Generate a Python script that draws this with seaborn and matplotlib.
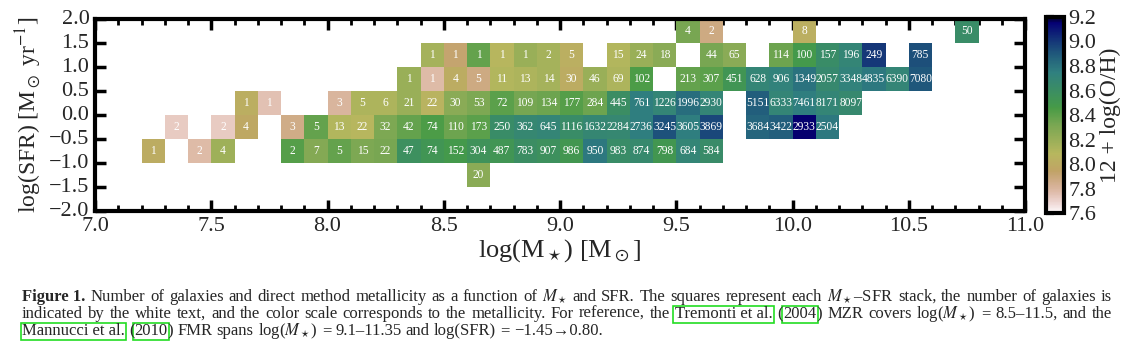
import numpy as np
import pandas as pd
import matplotlib
matplotlib.use("Agg")
import matplotlib.pyplot as plt
import seaborn as sns
from matplotlib.patches import Rectangle

sns.set_style("white")
plt.rcParams["font.family"] = ["Liberation Serif", "DejaVu Serif"]
plt.rcParams["mathtext.fontset"] = "stix"

# ---------------- data: one SFR row (bin centre) per block ----------------
sfr_r175 = 1.75
mass_r175 = [9.55, 9.65, 10.05, 10.75]
n_r175 = [4, 2, 8, 50]
z_r175 = [8.32, 7.87, 8.03, 8.62]

sfr_r125 = 1.25
mass_r125 = [8.45, 8.55, 8.65, 8.75, 8.85, 8.95, 9.05, 9.25, 9.35, 9.45, 9.65, 9.75,
             9.95, 10.05, 10.15, 10.25, 10.35, 10.55]
n_r125 = [1, 1, 1, 1, 1, 2, 5, 15, 24, 18, 44, 65, 114, 100, 157, 196, 249, 785]
z_r125 = [8.15, 7.92, 8.38, 8.08, 8.20, 8.15, 8.03, 8.10, 8.20, 8.25, 8.32, 8.25,
          8.35, 8.48, 8.62, 8.70, 9.00, 8.93]

sfr_r075 = 0.75
mass_r075 = [8.35, 8.45, 8.55, 8.65, 8.75, 8.85, 8.95, 9.05, 9.15, 9.25, 9.35, 9.55,
             9.65, 9.75, 9.85, 9.95, 10.05, 10.15, 10.25, 10.35, 10.45, 10.55]
n_r075 = [1, 1, 4, 5, 11, 13, 14, 30, 46, 69, 102, 213, 307, 451, 628, 906, 1349,
          2057, 3348, 4835, 6390, 7080]
z_r075 = [8.20, 7.78, 8.00, 7.87, 8.10, 8.12, 8.15, 8.00, 8.20, 8.12, 8.45, 8.38,
          8.40, 8.52, 8.70, 8.72, 8.80, 8.66, 8.72, 8.78, 8.70, 8.90]

sfr_r025 = 0.25
mass_r025 = [7.65, 7.75, 8.05, 8.15, 8.25, 8.35, 8.45, 8.55, 8.65, 8.75, 8.85, 8.95,
             9.05, 9.15, 9.25, 9.35, 9.45, 9.55, 9.65, 9.85, 9.95, 10.05, 10.15, 10.25]
n_r025 = [1, 1, 3, 5, 6, 21, 22, 30, 53, 72, 109, 134, 177, 284, 445, 761, 1226,
          1996, 2930, 5151, 6333, 7461, 8171, 8097]
z_r025 = [8.02, 7.75, 7.80, 8.12, 8.12, 8.20, 8.05, 8.25, 8.30, 8.40, 8.33, 8.35,
          8.42, 8.35, 8.60, 8.75, 8.70, 8.82, 8.70, 8.88, 8.70, 8.75, 8.70, 8.66]

sfr_rm025 = -0.25
mass_rm025 = [7.35, 7.55, 7.65, 7.85, 7.95, 8.05, 8.15, 8.25, 8.35, 8.45, 8.55, 8.65,
              8.75, 8.85, 8.95, 9.05, 9.15, 9.25, 9.35, 9.45, 9.55, 9.65, 9.85, 9.95,
              10.05, 10.15]
n_rm025 = [2, 2, 4, 3, 5, 13, 22, 32, 42, 74, 110, 173, 250, 362, 645, 1116, 1632,
           2284, 2736, 3245, 3605, 3869, 3684, 3422, 2933, 2504]
z_rm025 = [7.72, 7.72, 7.98, 7.86, 8.38, 8.10, 8.08, 8.30, 8.38, 8.45, 8.35, 8.40,
           8.62, 8.67, 8.70, 8.62, 8.68, 8.67, 8.75, 8.92, 8.75, 8.95, 8.85, 8.88,
           9.15, 8.78]

sfr_rm075 = -0.75
mass_rm075 = [7.25, 7.45, 7.55, 7.85, 7.95, 8.05, 8.15, 8.25, 8.35, 8.45, 8.55, 8.65,
              8.75, 8.85, 8.95, 9.05, 9.15, 9.25, 9.35, 9.45, 9.55, 9.65]
n_rm075 = [1, 2, 4, 2, 7, 5, 15, 22, 47, 74, 152, 304, 487, 783, 907, 986, 950, 983,
           874, 798, 684, 584]
z_rm075 = [8.00, 7.78, 8.18, 8.42, 8.28, 8.38, 8.30, 8.32, 8.58, 8.52, 8.48, 8.55,
           8.52, 8.60, 8.57, 8.50, 8.78, 8.62, 8.65, 8.50, 8.70, 8.63]

sfr_rm125 = -1.25
mass_rm125 = [8.65]
n_rm125 = [20]
z_rm125 = [8.25]

mass_ticks = [7.0, 7.5, 8.0, 8.5, 9.0, 9.5, 10.0, 10.5, 11.0]
sfr_ticks = [2.0, 1.5, 1.0, 0.5, 0.0, -0.5, -1.0, -1.5, -2.0]
cbar_ticks = [7.6, 7.8, 8.0, 8.2, 8.4, 8.6, 8.8, 9.0, 9.2]

# ---------------- build grid ----------------
M_LO, M_STEP, N_M = 7.0, 0.1, 40
S_HI, S_STEP, N_S = 2.0, 0.5, 8
blocks = [
    (sfr_r175, mass_r175, n_r175, z_r175),
    (sfr_r125, mass_r125, n_r125, z_r125),
    (sfr_r075, mass_r075, n_r075, z_r075),
    (sfr_r025, mass_r025, n_r025, z_r025),
    (sfr_rm025, mass_rm025, n_rm025, z_rm025),
    (sfr_rm075, mass_rm075, n_rm075, z_rm075),
    (sfr_rm125, mass_rm125, n_rm125, z_rm125),
]
recs = []
for s, ms, ns, zs in blocks:
    for m, n, z in zip(ms, ns, zs):
        recs.append((m, s, n, z))
df = pd.DataFrame(recs, columns=["mass", "sfr", "n", "z"])
df["col"] = np.floor((df["mass"] - M_LO) / M_STEP + 1e-6).astype(int)
df["row"] = np.floor((S_HI - df["sfr"]) / S_STEP + 1e-6).astype(int)
Z = df.pivot(index="row", columns="col", values="z").reindex(index=range(N_S), columns=range(N_M))
N = df.pivot(index="row", columns="col", values="n").reindex(index=range(N_S), columns=range(N_M))

# ---------------- figure ----------------
W, H = 1134, 343
fig = plt.figure(figsize=(W / 100, H / 100), dpi=100)
ax = fig.add_axes([95 / W, 1 - 211 / H, 930 / W, 192 / H])
cax = fig.add_axes([1046 / W, 1 - 213 / H, 18 / W, 196 / H])

sns.heatmap(Z, mask=Z.isna(), cmap="gist_earth_r", vmin=7.6, vmax=9.2,
            annot=N.values, fmt=".0f",
            annot_kws=dict(color="white", fontsize=8.3),
            ax=ax, cbar_ax=cax, cbar_kws={"ticks": cbar_ticks})

ax.set_xlim(0, N_M)
ax.set_ylim(N_S, 0)
ax.set_xticks([(m - M_LO) / M_STEP for m in mass_ticks])
ax.set_xticklabels([f"{m:.1f}" for m in mass_ticks], rotation=0)
ax.set_xticks(np.arange(0, N_M + 1, 1), minor=True)
ax.set_yticks([(S_HI - s) / S_STEP for s in sfr_ticks])
ax.set_yticklabels([f"{s:.1f}".replace("-", "\u2212") for s in sfr_ticks], rotation=0)
ax.set_yticks([], minor=True)
for sp in ax.spines.values():
    sp.set_visible(True)
    sp.set_linewidth(3)
    sp.set_color("black")
ax.tick_params(which="both", direction="in", top=True, right=True, bottom=True, left=True,
               color="black")
ax.tick_params(which="major", length=8, width=2.5, labelsize=16, pad=4)
ax.tick_params(which="minor", length=4, width=2)
ax.set_xlabel(r"log(M$_\star$) [M$_\odot$]", fontsize=19, labelpad=1)
ax.set_ylabel(r"log(SFR) [M$_\odot$ yr$^{-1}$]", fontsize=17, labelpad=4)

cb = ax.collections[0].colorbar
cb.outline.set_linewidth(3)
cb.outline.set_edgecolor("black")
cax.yaxis.set_ticks_position("left")
cax.tick_params(direction="in", left=True, right=False, labelleft=False, labelright=True,
                length=6, width=3, labelsize=16, pad=3, color="black")
cax.set_yticks(cbar_ticks)
cax.set_yticklabels([f"{t:.1f}" for t in cbar_ticks])
cax.yaxis.set_label_position("right")
cax.set_ylabel("12 + log(O/H)", fontsize=17, labelpad=3)

# ---------------- caption ----------------
renderer = fig.canvas.get_renderer()


def words_of(s):
    return [[(w, "n")] for w in s.split(" ")]


def place_line(words, x_left, x_right, y_base, fs, justify):
    laid = []
    total = 0.0
    for word in words:
        segs = []
        ww = 0.0
        for txt, kind in word:
            t = fig.text(0, 1 - y_base / H, txt, fontsize=fs,
                         fontweight="bold" if kind == "b" else "normal",
                         va="baseline", ha="left")
            w = t.get_window_extent(renderer).width
            segs.append((t, kind, w))
            ww += w
        laid.append(segs)
        total += ww
    space = fs * 0.25 * 100 / 72
    gap = (x_right - x_left - total) / (len(words) - 1) if justify else space
    x = x_left
    for segs in laid:
        for t, kind, w in segs:
            t.set_x(x / W)
            if kind == "link":
                bb = t.get_window_extent(renderer)
                fig.add_artist(Rectangle((bb.x0 - 1.5, bb.y0 - 0.5), bb.width + 3, bb.height + 1,
                                         transform=None, fill=False, edgecolor="#22dd22", lw=1.2))
            x += w
        x += gap


FS = 12
line1 = [[("Figure 1.", "b")]] + words_of(
    "Number of galaxies and direct method metallicity as a function of $M_\\star$ and SFR. "
    "The squares represent each $M_\\star$\u2013SFR stack, the number of galaxies is")
line2 = words_of("indicated by the white text, and the color scale corresponds to the metallicity. "
                 "For reference, the") + \
    [[("Tremonti et al.", "link")], [("(", "n"), ("2004", "link"), (")", "n")]] + \
    words_of("MZR covers log($M_\\star$) = 8.5\u201311.5, and the")
line3 = [[("Mannucci et al.", "link")], [("(", "n"), ("2010", "link"), (")", "n")]] + \
    words_of("FMR spans log($M_\\star$) = 9.1\u201311.35 and log(SFR) = \u22121.45\u21920.80.")

place_line(line1, 22, 1112, 301, FS, True)
place_line(line2, 22, 1112, 318, FS, True)
place_line(line3, 22, 1112, 335, FS, False)

fig.savefig("out.png", dpi=100, facecolor="white")
